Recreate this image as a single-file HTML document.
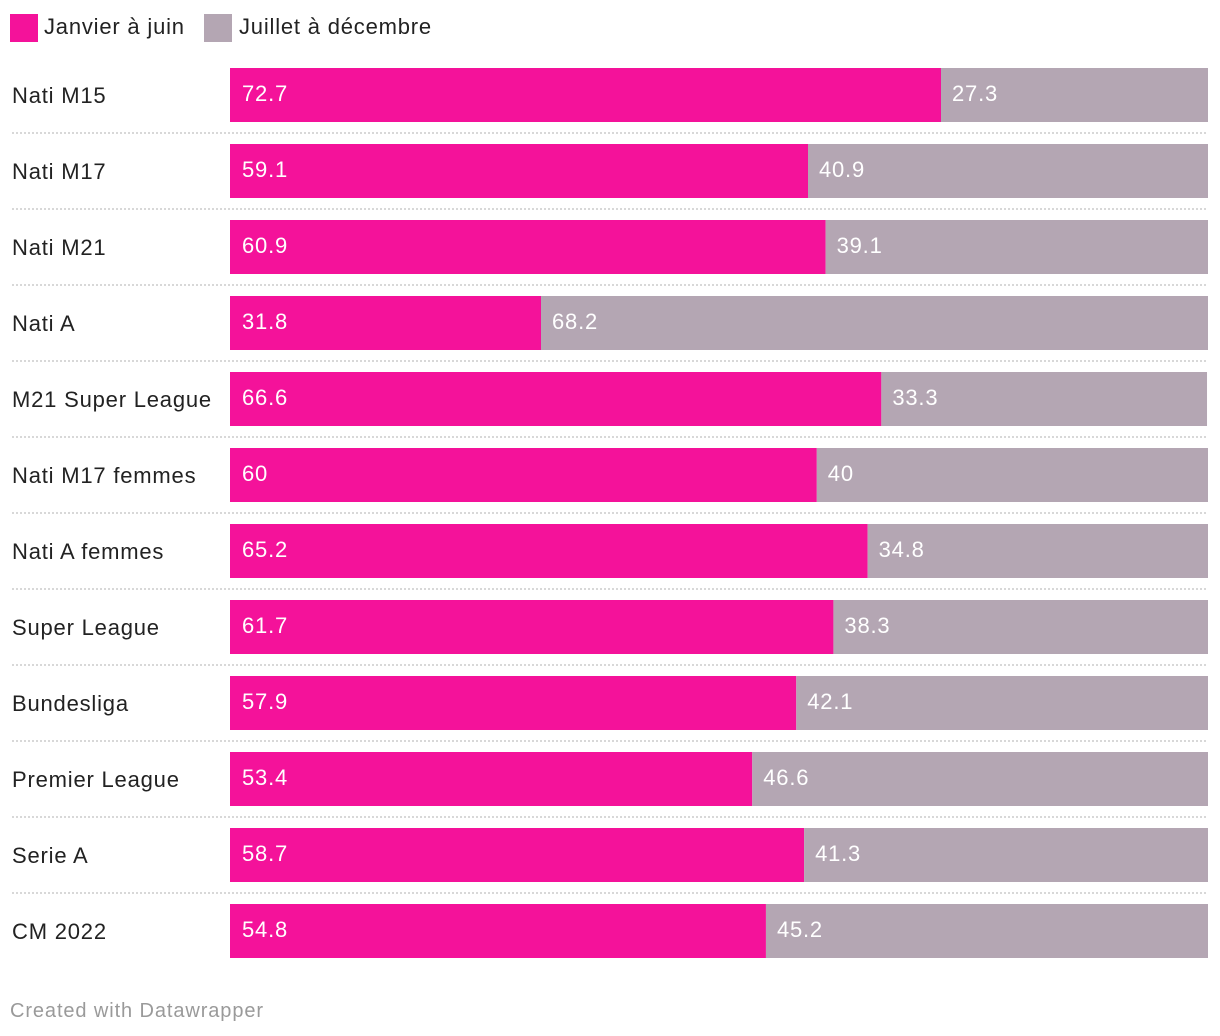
<!DOCTYPE html>
<html><head><meta charset="utf-8"><style>
body{margin:0;background:#fff;font-family:"Liberation Sans",sans-serif;}
svg{display:block}
text{letter-spacing:0.8px}
</style></head><body>
<svg id="c" width="1220" height="1036">
<g>
<rect x="10" y="14" width="28" height="28" fill="#f4129a"/>
<text x="44" y="34" font-size="22" fill="#222">Janvier à juin</text>
<rect x="204" y="14" width="28" height="28" fill="#b4a6b3"/>
<text x="239" y="34" font-size="22" fill="#222">Juillet à décembre</text>
</g>
<text x="10" y="1017" font-size="20" fill="#9a9a9a" style="letter-spacing:0.9px">Created with Datawrapper</text>
</svg>
<script>
const categories=["Nati M15","Nati M17","Nati M21","Nati A","M21 Super League","Nati M17 femmes","Nati A femmes","Super League","Bundesliga","Premier League","Serie A","CM 2022"];
const firstHalf=[72.7,59.1,60.9,31.8,66.6,60,65.2,61.7,57.9,53.4,58.7,54.8];
const secondHalf=[27.3,40.9,39.1,68.2,33.3,40,34.8,38.3,42.1,46.6,41.3,45.2];
const svg=document.getElementById('c');
const NS='http://www.w3.org/2000/svg';
const x0=230,x1=1208,top0=68,pitch=76,bh=54;
const xs=v=>x0+(x1-x0)*v/100;
function mk(t,a){const e=document.createElementNS(NS,t);for(const k in a)e.setAttribute(k,a[k]);svg.appendChild(e);return e;}
categories.forEach((c,i)=>{
  const y=top0+i*pitch;
  const lab=mk('text',{x:12,y:y+35,'font-size':22,fill:'#222'});lab.textContent=c;
  
  
  const a=firstHalf[i],b=secondHalf[i];
  const r1=mk('rect',{x:xs(0),y:y,width:xs(a)-xs(0),height:bh,fill:'#f4129a'});
  
  
  const r2=mk('rect',{x:xs(a),y:y,width:xs(a+b)-xs(a),height:bh,fill:'#b4a6b3'});
  
  
  const t1=mk('text',{x:xs(0)+12,y:y+33,'font-size':22,fill:'#fff'});t1.textContent=a;
  
  
  const t2=mk('text',{x:xs(a)+11,y:y+33,'font-size':22,fill:'#fff'});t2.textContent=b;
  
  
  if(i<categories.length-1){
    const l=mk('line',{x1:12,x2:1208,y1:y+65,y2:y+65,stroke:'#ccc','stroke-width':1.5,'stroke-dasharray':'2,2'});
    
    
  }
});
</script>
</body></html>
